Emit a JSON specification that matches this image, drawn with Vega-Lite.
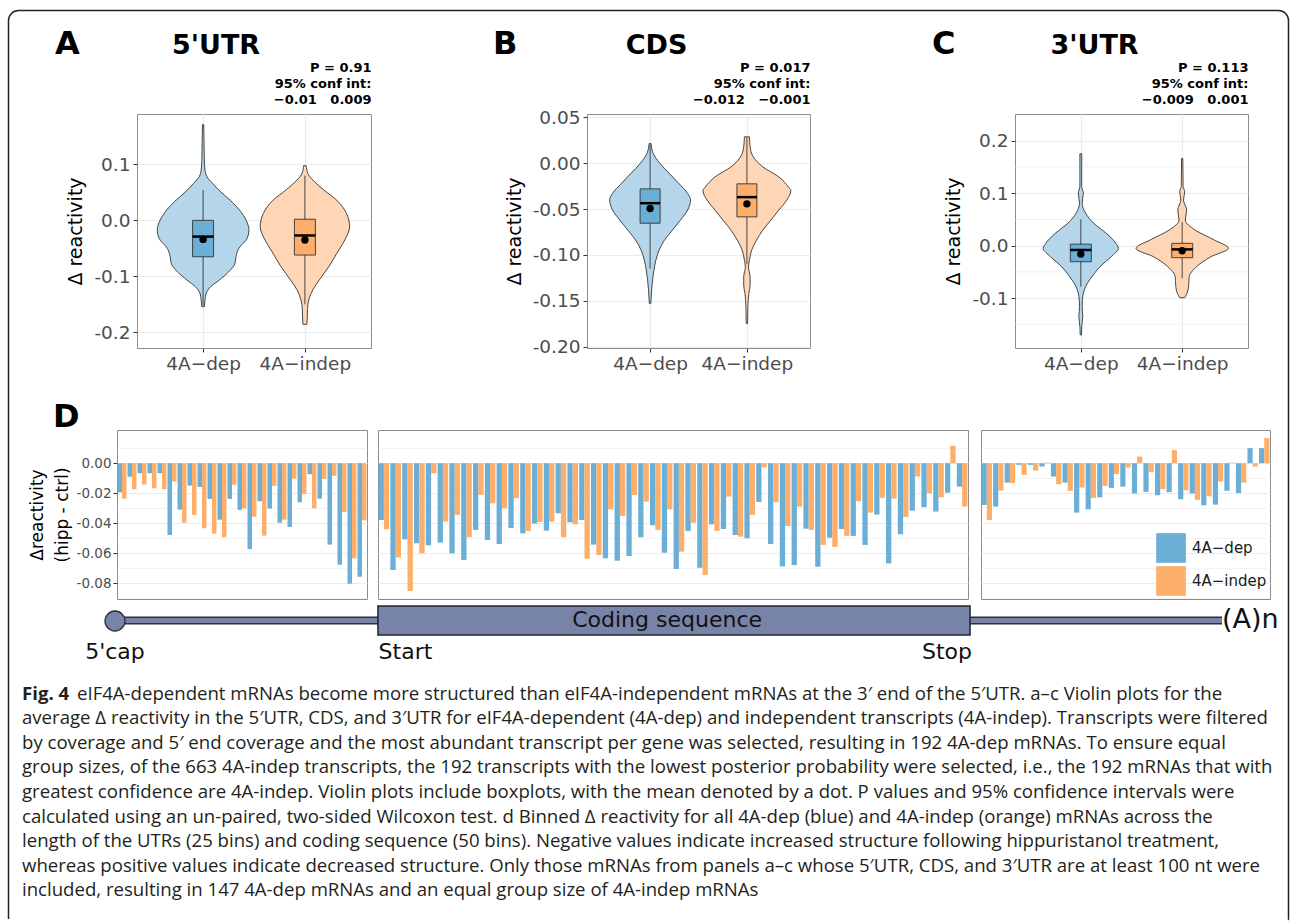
{
"$schema": "https://vega.github.io/schema/vega-lite/v6.json",
"background": "white",
"padding": {"left": 7, "top": 9, "right": 0, "bottom": 0},
"spacing": 0,
"bounds": "flush",
"resolve": {"scale": {"x": "independent", "y": "independent", "color": "independent", "fill": "independent", "xOffset": "independent"}},
"config": {
  "font": "DejaVu Sans",
  "view": {"stroke": null},
  "axis": {"labelFont": "DejaVu Sans", "titleFont": "DejaVu Sans", "labelColor": "#4d4d4d", "titleColor": "#000000", "titleFontWeight": "normal", "tickColor": "#333333", "domain": false, "gridColor": "#ebebeb", "labelOverlap": false},
  "title": {"font": "DejaVu Sans", "fontWeight": "bold", "color": "#000000"},
  "legend": {"labelFont": "DejaVu Sans"}
},
"datasets": {
  "vA": [
    {"g":"4A−dep","v":0.171,"w":0.006},{"g":"4A−dep","v":0.143,"w":0.009},{"g":"4A−dep","v":0.108,"w":0.012},{"g":"4A−dep","v":0.09,"w":0.019},{"g":"4A−dep","v":0.078,"w":0.038},{"g":"4A−dep","v":0.066,"w":0.094},{"g":"4A−dep","v":0.051,"w":0.172},{"g":"4A−dep","v":0.036,"w":0.266},{"g":"4A−dep","v":0.018,"w":0.36},{"g":"4A−dep","v":0.0,"w":0.423},{"g":"4A−dep","v":-0.017,"w":0.45},{"g":"4A−dep","v":-0.032,"w":0.433},{"g":"4A−dep","v":-0.05,"w":0.351},{"g":"4A−dep","v":-0.065,"w":0.323},{"g":"4A−dep","v":-0.077,"w":0.313},{"g":"4A−dep","v":-0.092,"w":0.251},{"g":"4A−dep","v":-0.107,"w":0.157},{"g":"4A−dep","v":-0.118,"w":0.078},{"g":"4A−dep","v":-0.13,"w":0.031},{"g":"4A−dep","v":-0.142,"w":0.019},{"g":"4A−dep","v":-0.154,"w":0.013},
    {"g":"4A−indep","v":0.0976,"w":0.013},{"g":"4A−indep","v":0.084,"w":0.028},{"g":"4A−indep","v":0.072,"w":0.078},{"g":"4A−indep","v":0.054,"w":0.188},{"g":"4A−indep","v":0.036,"w":0.313},{"g":"4A−indep","v":0.0125,"w":0.408},{"g":"4A−indep","v":-0.0113,"w":0.439},{"g":"4A−indep","v":-0.035,"w":0.392},{"g":"4A−indep","v":-0.0589,"w":0.313},{"g":"4A−indep","v":-0.0827,"w":0.235},{"g":"4A−indep","v":-0.1065,"w":0.141},{"g":"4A−indep","v":-0.124,"w":0.078},{"g":"4A−indep","v":-0.142,"w":0.038},{"g":"4A−indep","v":-0.1595,"w":0.025},{"g":"4A−indep","v":-0.178,"w":0.022},{"g":"4A−indep","v":-0.1857,"w":0.019}
  ],
  "vB": [
    {"g":"4A−dep","v":0.0214,"w":0.01},{"g":"4A−dep","v":0.0105,"w":0.033},{"g":"4A−dep","v":0.0,"w":0.099},{"g":"4A−dep","v":-0.011,"w":0.197},{"g":"4A−dep","v":-0.022,"w":0.296},{"g":"4A−dep","v":-0.033,"w":0.388},{"g":"4A−dep","v":-0.04,"w":0.418},{"g":"4A−dep","v":-0.051,"w":0.388},{"g":"4A−dep","v":-0.062,"w":0.313},{"g":"4A−dep","v":-0.073,"w":0.23},{"g":"4A−dep","v":-0.084,"w":0.148},{"g":"4A−dep","v":-0.095,"w":0.092},{"g":"4A−dep","v":-0.106,"w":0.059},{"g":"4A−dep","v":-0.117,"w":0.039},{"g":"4A−dep","v":-0.127,"w":0.026},{"g":"4A−dep","v":-0.138,"w":0.016},{"g":"4A−dep","v":-0.149,"w":0.01},{"g":"4A−dep","v":-0.153,"w":0.007},
    {"g":"4A−indep","v":0.0287,"w":0.026},{"g":"4A−indep","v":0.0178,"w":0.033},{"g":"4A−indep","v":0.0069,"w":0.066},{"g":"4A−indep","v":-0.004,"w":0.164},{"g":"4A−indep","v":-0.0149,"w":0.329},{"g":"4A−indep","v":-0.0258,"w":0.428},{"g":"4A−indep","v":-0.03,"w":0.454},{"g":"4A−indep","v":-0.0403,"w":0.411},{"g":"4A−indep","v":-0.0512,"w":0.329},{"g":"4A−indep","v":-0.0621,"w":0.247},{"g":"4A−indep","v":-0.073,"w":0.164},{"g":"4A−indep","v":-0.0839,"w":0.099},{"g":"4A−indep","v":-0.0948,"w":0.049},{"g":"4A−indep","v":-0.1057,"w":0.026},{"g":"4A−indep","v":-0.113,"w":0.016},{"g":"4A−indep","v":-0.1238,"w":0.033},{"g":"4A−indep","v":-0.133,"w":0.033},{"g":"4A−indep","v":-0.142,"w":0.02},{"g":"4A−indep","v":-0.1565,"w":0.01},{"g":"4A−indep","v":-0.1747,"w":0.007}
  ],
  "vC": [
    {"g":"4A−dep","v":0.175,"w":0.009},{"g":"4A−dep","v":0.151,"w":0.009},{"g":"4A−dep","v":0.113,"w":0.009},{"g":"4A−dep","v":0.1,"w":0.025},{"g":"4A−dep","v":0.081,"w":0.013},{"g":"4A−dep","v":0.062,"w":0.047},{"g":"4A−dep","v":0.043,"w":0.126},{"g":"4A−dep","v":0.0235,"w":0.252},{"g":"4A−dep","v":0.0045,"w":0.346},{"g":"4A−dep","v":-0.005,"w":0.371},{"g":"4A−dep","v":-0.021,"w":0.299},{"g":"4A−dep","v":-0.04,"w":0.189},{"g":"4A−dep","v":-0.059,"w":0.11},{"g":"4A−dep","v":-0.078,"w":0.047},{"g":"4A−dep","v":-0.097,"w":0.019},{"g":"4A−dep","v":-0.116,"w":0.013},{"g":"4A−dep","v":-0.135,"w":0.019},{"g":"4A−dep","v":-0.154,"w":0.009},{"g":"4A−dep","v":-0.17,"w":0.006},
    {"g":"4A−indep","v":0.166,"w":0.006},{"g":"4A−indep","v":0.113,"w":0.009},{"g":"4A−indep","v":0.103,"w":0.025},{"g":"4A−indep","v":0.087,"w":0.013},{"g":"4A−indep","v":0.068,"w":0.044},{"g":"4A−indep","v":0.049,"w":0.031},{"g":"4A−indep","v":0.03,"w":0.126},{"g":"4A−indep","v":0.011,"w":0.315},{"g":"4A−indep","v":-0.005,"w":0.456},{"g":"4A−indep","v":-0.021,"w":0.283},{"g":"4A−indep","v":-0.04,"w":0.142},{"g":"4A−indep","v":-0.059,"w":0.069},{"g":"4A−indep","v":-0.078,"w":0.063},{"g":"4A−indep","v":-0.091,"w":0.047},{"g":"4A−indep","v":-0.099,"w":0.025}
  ],
  "gridC": [{"gv": -0.15}, {"gv": -0.05}, {"gv": 0.05}, {"gv": 0.15}],
  "bA": [{"g":"4A−dep","q1":-0.065,"med":-0.029,"q3":0.0,"wlo":-0.152,"whi":0.054,"mean":-0.034},{"g":"4A−indep","q1":-0.062,"med":-0.027,"q3":0.002,"wlo":-0.15,"whi":0.08,"mean":-0.035}],
  "bB": [{"g":"4A−dep","q1":-0.0654,"med":-0.0436,"q3":-0.028,"wlo":-0.115,"whi":0.0205,"mean":-0.0494},{"g":"4A−indep","q1":-0.0585,"med":-0.037,"q3":-0.0225,"wlo":-0.11,"whi":0.028,"mean":-0.0443}],
  "bC": [{"g":"4A−dep","q1":-0.0305,"med":-0.008,"q3":0.003,"wlo":-0.078,"whi":0.05,"mean":-0.016},{"g":"4A−indep","q1":-0.0229,"med":-0.007,"q3":0.0045,"wlo":-0.062,"whi":0.045,"mean":-0.0095}],
  "d5": [
    {"b":1,"g":"4A−dep","v":-0.0193},{"b":1,"g":"4A−indep","v":-0.0236},{"b":2,"g":"4A−dep","v":-0.009},{"b":2,"g":"4A−indep","v":-0.0173},{"b":3,"g":"4A−dep","v":-0.0067},{"b":3,"g":"4A−indep","v":-0.0142},{"b":4,"g":"4A−dep","v":-0.0067},{"b":4,"g":"4A−indep","v":-0.0167},{"b":5,"g":"4A−dep","v":-0.0067},{"b":5,"g":"4A−indep","v":-0.0173},
    {"b":6,"g":"4A−dep","v":-0.0478},{"b":6,"g":"4A−indep","v":-0.0122},{"b":7,"g":"4A−dep","v":-0.0309},{"b":7,"g":"4A−indep","v":-0.0396},{"b":8,"g":"4A−dep","v":-0.0149},{"b":8,"g":"4A−indep","v":-0.0344},{"b":9,"g":"4A−dep","v":-0.0158},{"b":9,"g":"4A−indep","v":-0.0433},{"b":10,"g":"4A−dep","v":-0.0238},{"b":10,"g":"4A−indep","v":-0.0469},
    {"b":11,"g":"4A−dep","v":-0.0376},{"b":11,"g":"4A−indep","v":-0.0493},{"b":12,"g":"4A−dep","v":-0.0238},{"b":12,"g":"4A−indep","v":-0.0144},{"b":13,"g":"4A−dep","v":-0.0311},{"b":13,"g":"4A−indep","v":-0.03},{"b":14,"g":"4A−dep","v":-0.0571},{"b":14,"g":"4A−indep","v":-0.0356},{"b":15,"g":"4A−dep","v":-0.0253},{"b":15,"g":"4A−indep","v":-0.0482},
    {"b":16,"g":"4A−dep","v":-0.0302},{"b":16,"g":"4A−indep","v":-0.0151},{"b":17,"g":"4A−dep","v":-0.0396},{"b":17,"g":"4A−indep","v":-0.0376},{"b":18,"g":"4A−dep","v":-0.0424},{"b":18,"g":"4A−indep","v":-0.0102},{"b":19,"g":"4A−dep","v":-0.026},{"b":19,"g":"4A−indep","v":-0.0204},{"b":20,"g":"4A−dep","v":-0.0073},{"b":20,"g":"4A−indep","v":-0.03},
    {"b":21,"g":"4A−dep","v":-0.0236},{"b":21,"g":"4A−indep","v":-0.0104},{"b":22,"g":"4A−dep","v":-0.0542},{"b":22,"g":"4A−indep","v":-0.0084},{"b":23,"g":"4A−dep","v":-0.0676},{"b":23,"g":"4A−indep","v":-0.0324},{"b":24,"g":"4A−dep","v":-0.0802},{"b":24,"g":"4A−indep","v":-0.0633},{"b":25,"g":"4A−dep","v":-0.0756},{"b":25,"g":"4A−indep","v":-0.038}
  ],
  "dc": [
    {"b":1,"g":"4A−dep","v":-0.0378},{"b":1,"g":"4A−indep","v":-0.044},{"b":2,"g":"4A−dep","v":-0.0711},{"b":2,"g":"4A−indep","v":-0.0627},{"b":3,"g":"4A−dep","v":-0.0507},{"b":3,"g":"4A−indep","v":-0.0851},{"b":4,"g":"4A−dep","v":-0.0533},{"b":4,"g":"4A−indep","v":-0.06},{"b":5,"g":"4A−dep","v":-0.0547},{"b":5,"g":"4A−indep","v":-0.0067},
    {"b":6,"g":"4A−dep","v":-0.0529},{"b":6,"g":"4A−indep","v":-0.0389},{"b":7,"g":"4A−dep","v":-0.06},{"b":7,"g":"4A−indep","v":-0.0344},{"b":8,"g":"4A−dep","v":-0.0644},{"b":8,"g":"4A−indep","v":-0.0493},{"b":9,"g":"4A−dep","v":-0.0444},{"b":9,"g":"4A−indep","v":-0.0211},{"b":10,"g":"4A−dep","v":-0.0511},{"b":10,"g":"4A−indep","v":-0.0267},
    {"b":11,"g":"4A−dep","v":-0.0538},{"b":11,"g":"4A−indep","v":-0.03},{"b":12,"g":"4A−dep","v":-0.0431},{"b":12,"g":"4A−indep","v":-0.0233},{"b":13,"g":"4A−dep","v":-0.0467},{"b":13,"g":"4A−indep","v":-0.0451},{"b":14,"g":"4A−dep","v":-0.0402},{"b":14,"g":"4A−indep","v":-0.0391},{"b":15,"g":"4A−dep","v":-0.0449},{"b":15,"g":"4A−indep","v":-0.0389},
    {"b":16,"g":"4A−dep","v":-0.0333},{"b":16,"g":"4A−indep","v":-0.0493},{"b":17,"g":"4A−dep","v":-0.0393},{"b":17,"g":"4A−indep","v":-0.0407},{"b":18,"g":"4A−dep","v":-0.0378},{"b":18,"g":"4A−indep","v":-0.0636},{"b":19,"g":"4A−dep","v":-0.0542},{"b":19,"g":"4A−indep","v":-0.0611},{"b":20,"g":"4A−dep","v":-0.0633},{"b":20,"g":"4A−indep","v":-0.0307},
    {"b":21,"g":"4A−dep","v":-0.0649},{"b":21,"g":"4A−indep","v":-0.0351},{"b":22,"g":"4A−dep","v":-0.0618},{"b":22,"g":"4A−indep","v":-0.0211},{"b":23,"g":"4A−dep","v":-0.0493},{"b":23,"g":"4A−indep","v":-0.0256},{"b":24,"g":"4A−dep","v":-0.0413},{"b":24,"g":"4A−indep","v":-0.0444},{"b":25,"g":"4A−dep","v":-0.0596},{"b":25,"g":"4A−indep","v":-0.0307},
    {"b":26,"g":"4A−dep","v":-0.0704},{"b":26,"g":"4A−indep","v":-0.0589},{"b":27,"g":"4A−dep","v":-0.0451},{"b":27,"g":"4A−indep","v":-0.0396},{"b":28,"g":"4A−dep","v":-0.0696},{"b":28,"g":"4A−indep","v":-0.0744},{"b":29,"g":"4A−dep","v":-0.0407},{"b":29,"g":"4A−indep","v":-0.0451},{"b":30,"g":"4A−dep","v":-0.0438},{"b":30,"g":"4A−indep","v":-0.0222},
    {"b":31,"g":"4A−dep","v":-0.0478},{"b":31,"g":"4A−indep","v":-0.0489},{"b":32,"g":"4A−dep","v":-0.05},{"b":32,"g":"4A−indep","v":-0.0344},{"b":33,"g":"4A−dep","v":-0.0258},{"b":33,"g":"4A−indep","v":-0.0027},{"b":34,"g":"4A−dep","v":-0.0538},{"b":34,"g":"4A−indep","v":-0.026},{"b":35,"g":"4A−dep","v":-0.0687},{"b":35,"g":"4A−indep","v":-0.0418},
    {"b":36,"g":"4A−dep","v":-0.0678},{"b":36,"g":"4A−indep","v":-0.0289},{"b":37,"g":"4A−dep","v":-0.0436},{"b":37,"g":"4A−indep","v":-0.0444},{"b":38,"g":"4A−dep","v":-0.0689},{"b":38,"g":"4A−indep","v":-0.0544},{"b":39,"g":"4A−dep","v":-0.0496},{"b":39,"g":"4A−indep","v":-0.0558},{"b":40,"g":"4A−dep","v":-0.0438},{"b":40,"g":"4A−indep","v":-0.0484},
    {"b":41,"g":"4A−dep","v":-0.0484},{"b":41,"g":"4A−indep","v":-0.0253},{"b":42,"g":"4A−dep","v":-0.0544},{"b":42,"g":"4A−indep","v":-0.0329},{"b":43,"g":"4A−dep","v":-0.0342},{"b":43,"g":"4A−indep","v":-0.0231},{"b":44,"g":"4A−dep","v":-0.0667},{"b":44,"g":"4A−indep","v":-0.0236},{"b":45,"g":"4A−dep","v":-0.0473},{"b":45,"g":"4A−indep","v":-0.0358},
    {"b":46,"g":"4A−dep","v":-0.0316},{"b":46,"g":"4A−indep","v":-0.0089},{"b":47,"g":"4A−dep","v":-0.0293},{"b":47,"g":"4A−indep","v":-0.02},{"b":48,"g":"4A−dep","v":-0.0322},{"b":48,"g":"4A−indep","v":-0.0227},{"b":49,"g":"4A−dep","v":-0.0196},{"b":49,"g":"4A−indep","v":0.0116},{"b":50,"g":"4A−dep","v":-0.0156},{"b":50,"g":"4A−indep","v":-0.0289}
  ],
  "d3": [
    {"b":1,"g":"4A−dep","v":-0.0278},{"b":1,"g":"4A−indep","v":-0.0378},{"b":2,"g":"4A−dep","v":-0.0289},{"b":2,"g":"4A−indep","v":-0.0182},{"b":3,"g":"4A−dep","v":-0.0129},{"b":3,"g":"4A−indep","v":-0.0133},{"b":4,"g":"4A−dep","v":-0.0011},{"b":4,"g":"4A−indep","v":-0.0078},{"b":5,"g":"4A−dep","v":-0.0011},{"b":5,"g":"4A−indep","v":-0.0049},
    {"b":6,"g":"4A−dep","v":-0.0022},{"b":6,"g":"4A−indep","v":0.0004},{"b":7,"g":"4A−dep","v":-0.0089},{"b":7,"g":"4A−indep","v":-0.014},{"b":8,"g":"4A−dep","v":-0.0129},{"b":8,"g":"4A−indep","v":-0.0184},{"b":9,"g":"4A−dep","v":-0.0329},{"b":9,"g":"4A−indep","v":-0.0162},{"b":10,"g":"4A−dep","v":-0.0307},{"b":10,"g":"4A−indep","v":-0.0231},
    {"b":11,"g":"4A−dep","v":-0.0227},{"b":11,"g":"4A−indep","v":-0.0151},{"b":12,"g":"4A−dep","v":-0.0164},{"b":12,"g":"4A−indep","v":-0.0073},{"b":13,"g":"4A−dep","v":-0.0156},{"b":13,"g":"4A−indep","v":-0.0029},{"b":14,"g":"4A−dep","v":-0.0202},{"b":14,"g":"4A−indep","v":0.0044},{"b":15,"g":"4A−dep","v":-0.0191},{"b":15,"g":"4A−indep","v":-0.006},
    {"b":16,"g":"4A−dep","v":-0.0213},{"b":16,"g":"4A−indep","v":-0.0173},{"b":17,"g":"4A−dep","v":-0.0193},{"b":17,"g":"4A−indep","v":0.0087},{"b":18,"g":"4A−dep","v":-0.024},{"b":18,"g":"4A−indep","v":-0.018},{"b":19,"g":"4A−dep","v":-0.0202},{"b":19,"g":"4A−indep","v":-0.0244},{"b":20,"g":"4A−dep","v":-0.028},{"b":20,"g":"4A−indep","v":-0.022},
    {"b":21,"g":"4A−dep","v":-0.0276},{"b":21,"g":"4A−indep","v":-0.0122},{"b":22,"g":"4A−dep","v":-0.0184},{"b":22,"g":"4A−indep","v":0.0004},{"b":23,"g":"4A−dep","v":-0.0198},{"b":23,"g":"4A−indep","v":-0.0129},{"b":24,"g":"4A−dep","v":0.01},{"b":24,"g":"4A−indep","v":-0.0022},{"b":25,"g":"4A−dep","v":0.01},{"b":25,"g":"4A−indep","v":0.0167}
  ],
  "gene": [
    {"part":"5′UTR","start":7.38,"end":28.25},
    {"part":"CDS","start":28.25,"end":75.24},
    {"part":"3′UTR","start":75.24,"end":95.24}
  ],
  "genelab": [
    {"kind":"cap","label":"5'cap","pos":7.38},
    {"kind":"start","label":"Start","pos":28.3},
    {"kind":"stop","label":"Stop","pos":75.4},
    {"kind":"cds","label":"Coding sequence","pos":51.2},
    {"kind":"polyA","label":"(A)n","pos":95.24}
  ],
  "cap": [
    {"line":1,"part":"b","text":"Fig. 4"},
    {"line":1,"part":"r","text":"eIF4A-dependent mRNAs become more structured than eIF4A-independent mRNAs at the 3′ end of the 5′UTR. a–c Violin plots for the"},
    {"line":2,"part":"p","text":"average Δ reactivity in the 5′UTR, CDS, and 3′UTR for eIF4A-dependent (4A-dep) and independent transcripts (4A-indep). Transcripts were filtered"},
    {"line":3,"part":"p","text":"by coverage and 5′ end coverage and the most abundant transcript per gene was selected, resulting in 192 4A-dep mRNAs. To ensure equal"},
    {"line":4,"part":"p","text":"group sizes, of the 663 4A-indep transcripts, the 192 transcripts with the lowest posterior probability were selected, i.e., the 192 mRNAs that with"},
    {"line":5,"part":"p","text":"greatest confidence are 4A-indep. Violin plots include boxplots, with the mean denoted by a dot. P values and 95% confidence intervals were"},
    {"line":6,"part":"p","text":"calculated using an un-paired, two-sided Wilcoxon test. d Binned Δ reactivity for all 4A-dep (blue) and 4A-indep (orange) mRNAs across the"},
    {"line":7,"part":"p","text":"length of the UTRs (25 bins) and coding sequence (50 bins). Negative values indicate increased structure following hippuristanol treatment,"},
    {"line":8,"part":"p","text":"whereas positive values indicate decreased structure. Only those mRNAs from panels a–c whose 5′UTR, CDS, and 3′UTR are at least 100 nt were"},
    {"line":9,"part":"p","text":"included, resulting in 147 4A-dep mRNAs and an equal group size of 4A-indep mRNAs"}
  ]
},
"vconcat": [
  {"hconcat": [
    {"width": 1283, "height": 911, "data": {"values": [{}]},
     "mark": {"type": "rect", "filled": false, "stroke": "#222222", "strokeWidth": 1.5, "cornerRadiusTopLeft": 10, "cornerRadiusTopRight": 10, "strokeDash": [2174.7, 1280.4, 914.7, 60]},
     "encoding": {"x": {"datum": 0.00117, "type": "quantitative", "scale": {"domain": [0, 1], "nice": false, "zero": false}, "axis": null}, "x2": {"datum": 0.99883},
                  "y": {"datum": 0.99835, "type": "quantitative", "scale": {"domain": [0, 1], "nice": false, "zero": false}, "axis": null}, "y2": {"datum": 0.00055}}}
   ], "spacing": 0, "bounds": "flush"},
  {"width": 1, "height": 105, "data": {"values": [{}]}, "mark": {"type": "point", "opacity": 0, "size": 0}},
  {
   "hconcat": [
    {"width": 130, "height": 1, "data": {"values": [{}]}, "mark": {"type": "point", "opacity": 0, "size": 0},
     "title": {"text": "A", "fontSize": 32, "anchor": "start", "dx": 48, "offset": 28, "baseline": "alphabetic", "frame": "group"}},
    {
     "width": 234, "height": 234,
     "view": {"stroke": "#8c8c8c", "strokeWidth": 1},
     "title": {"text": "5'UTR", "fontSize": 27, "anchor": "middle", "dx": -38, "offset": -20, "baseline": "alphabetic", "frame": "group"},
     "resolve": {"axis": {"x": "independent"}},
     "layer": [
      {"data": {"name": "vA"},
       "transform": [{"calculate": "datum.g === '4A−dep' ? 1 : 2", "as": "c"}, {"calculate": "datum.c - datum.w", "as": "lo"}, {"calculate": "datum.c + datum.w", "as": "hi"}],
       "mark": {"type": "area", "orient": "horizontal", "interpolate": "monotone", "stroke": "#333333", "strokeWidth": 0.9, "opacity": 1},
       "encoding": {
         "y": {"field": "v", "type": "quantitative", "title": "Δ reactivity", "scale": {"domain": [-0.228, 0.19], "nice": false, "zero": false},
               "axis": {"values": [-0.2,-0.15,-0.1,-0.05,0,0.05,0.1,0.15], "labelExpr": "abs(datum.value*10 - round(datum.value*10)) > 0.01 ? '' : replace(format(datum.value, '.1f'), '−', '-')", "titleFontSize": 19, "titlePadding": 8, "labelFontSize": 18.5, "labelPadding": 3, "tickSize": 4, "tickOpacity": {"condition": {"test": "abs(datum.value*10 - round(datum.value*10)) > 0.01", "value": 0}, "value": 1}, "grid": true, "gridWidth": {"condition": {"test": "abs(datum.value*10 - round(datum.value*10)) > 0.01", "value": 0.6}, "value": 1.2}}},
         "x": {"field": "lo", "type": "quantitative", "scale": {"domain": [0.4, 2.6], "nice": false, "zero": false},
               "axis": {"orient": "bottom", "values": [1, 2], "labelExpr": "datum.value === 1 ? '4A−dep' : '4A−indep'", "title": null, "grid": true, "gridWidth": 1.2, "tickSize": 4, "labelFontSize": 18.5, "labelPadding": 2}},
         "x2": {"field": "hi"},
         "fill": {"field": "g", "type": "nominal", "scale": {"domain": ["4A−dep", "4A−indep"], "range": ["#b5d6ea", "#fed6b5"]}, "legend": null}
       }},
      {"data": {"name": "bA"}, "transform": [{"calculate": "datum.g === '4A−dep' ? 1 : 2", "as": "c"}],
       "mark": {"type": "rule", "color": "#333333", "strokeWidth": 0.9},
       "encoding": {"x": {"field": "c", "type": "quantitative", "axis": null}, "y": {"field": "wlo", "type": "quantitative", "title": "Δ reactivity"}, "y2": {"field": "whi"}}},
      {"data": {"name": "bA"}, "transform": [{"calculate": "datum.g === '4A−dep' ? 1 : 2", "as": "c"}],
       "mark": {"type": "bar", "width": 21, "stroke": "#333333", "strokeWidth": 0.9, "opacity": 1},
       "encoding": {"x": {"field": "c", "type": "quantitative", "axis": null}, "y": {"field": "q1", "type": "quantitative", "title": "Δ reactivity"}, "y2": {"field": "q3"},
                    "color": {"field": "g", "type": "nominal", "scale": {"domain": ["4A−dep", "4A−indep"], "range": ["#6baed6", "#fdae6b"]}, "legend": null}}},
      {"data": {"name": "bA"}, "transform": [{"calculate": "datum.g === '4A−dep' ? 1 : 2", "as": "c"}],
       "mark": {"type": "tick", "orient": "horizontal", "size": 21, "thickness": 2.5, "color": "#000000", "opacity": 1},
       "encoding": {"x": {"field": "c", "type": "quantitative", "axis": null}, "y": {"field": "med", "type": "quantitative", "title": "Δ reactivity"}}},
      {"data": {"name": "bA"}, "transform": [{"calculate": "datum.g === '4A−dep' ? 1 : 2", "as": "c"}],
       "mark": {"type": "point", "filled": true, "size": 55, "color": "#000000", "opacity": 1},
       "encoding": {"x": {"field": "c", "type": "quantitative",
                          "axis": {"orient": "top", "title": ["P = 0.91", "95% conf int:", "−0.01\u00a0\u00a0\u00a00.009"], "titleAnchor": "end", "titleFontSize": 13, "titleFontWeight": "bold", "titleLineHeight": 16.3, "titlePadding": 7, "labels": false, "ticks": false, "domain": false, "grid": false}},
                    "y": {"field": "mean", "type": "quantitative", "title": "Δ reactivity"}}}
     ]
    },
    {"width": 216, "height": 1, "data": {"values": [{}]}, "mark": {"type": "point", "opacity": 0, "size": 0},
     "title": {"text": "B", "fontSize": 32, "anchor": "start", "dx": 122, "offset": 28, "baseline": "alphabetic", "frame": "group"}},
    {
     "width": 223, "height": 234,
     "view": {"stroke": "#8c8c8c", "strokeWidth": 1},
     "title": {"text": "CDS", "fontSize": 27, "anchor": "middle", "dx": -42, "offset": -20, "baseline": "alphabetic", "frame": "group"},
     "resolve": {"axis": {"x": "independent"}},
     "layer": [
      {"data": {"name": "vB"},
       "transform": [{"calculate": "datum.g === '4A−dep' ? 1 : 2", "as": "c"}, {"calculate": "datum.c - datum.w", "as": "lo"}, {"calculate": "datum.c + datum.w", "as": "hi"}],
       "mark": {"type": "area", "orient": "horizontal", "interpolate": "monotone", "stroke": "#333333", "strokeWidth": 0.9, "opacity": 1},
       "encoding": {
         "y": {"field": "v", "type": "quantitative", "title": "Δ reactivity", "scale": {"domain": [-0.2014, 0.0536], "nice": false, "zero": false},
               "axis": {"values": [-0.2,-0.175,-0.15,-0.125,-0.1,-0.075,-0.05,-0.025,0,0.025,0.05], "labelExpr": "abs(datum.value*20 - round(datum.value*20)) > 0.01 ? '' : replace(format(datum.value, '.2f'), '−', '-')", "titleFontSize": 19, "titlePadding": 8, "labelFontSize": 18.5, "labelPadding": 3, "tickSize": 4, "tickOpacity": {"condition": {"test": "abs(datum.value*20 - round(datum.value*20)) > 0.01", "value": 0}, "value": 1}, "grid": true, "gridWidth": {"condition": {"test": "abs(datum.value*20 - round(datum.value*20)) > 0.01", "value": 0.6}, "value": 1.2}}},
         "x": {"field": "lo", "type": "quantitative", "scale": {"domain": [0.4, 2.6], "nice": false, "zero": false},
               "axis": {"orient": "bottom", "values": [1, 2], "labelExpr": "datum.value === 1 ? '4A−dep' : '4A−indep'", "title": null, "grid": true, "gridWidth": 1.2, "tickSize": 4, "labelFontSize": 18.5, "labelPadding": 2}},
         "x2": {"field": "hi"},
         "fill": {"field": "g", "type": "nominal", "scale": {"domain": ["4A−dep", "4A−indep"], "range": ["#b5d6ea", "#fed6b5"]}, "legend": null}
       }},
      {"data": {"name": "bB"}, "transform": [{"calculate": "datum.g === '4A−dep' ? 1 : 2", "as": "c"}],
       "mark": {"type": "rule", "color": "#333333", "strokeWidth": 0.9},
       "encoding": {"x": {"field": "c", "type": "quantitative", "axis": null}, "y": {"field": "wlo", "type": "quantitative", "title": "Δ reactivity"}, "y2": {"field": "whi"}}},
      {"data": {"name": "bB"}, "transform": [{"calculate": "datum.g === '4A−dep' ? 1 : 2", "as": "c"}],
       "mark": {"type": "bar", "width": 20, "stroke": "#333333", "strokeWidth": 0.9, "opacity": 1},
       "encoding": {"x": {"field": "c", "type": "quantitative", "axis": null}, "y": {"field": "q1", "type": "quantitative", "title": "Δ reactivity"}, "y2": {"field": "q3"},
                    "color": {"field": "g", "type": "nominal", "scale": {"domain": ["4A−dep", "4A−indep"], "range": ["#6baed6", "#fdae6b"]}, "legend": null}}},
      {"data": {"name": "bB"}, "transform": [{"calculate": "datum.g === '4A−dep' ? 1 : 2", "as": "c"}],
       "mark": {"type": "tick", "orient": "horizontal", "size": 20, "thickness": 2.5, "color": "#000000", "opacity": 1},
       "encoding": {"x": {"field": "c", "type": "quantitative", "axis": null}, "y": {"field": "med", "type": "quantitative", "title": "Δ reactivity"}}},
      {"data": {"name": "bB"}, "transform": [{"calculate": "datum.g === '4A−dep' ? 1 : 2", "as": "c"}],
       "mark": {"type": "point", "filled": true, "size": 55, "color": "#000000", "opacity": 1},
       "encoding": {"x": {"field": "c", "type": "quantitative",
                          "axis": {"orient": "top", "title": ["P = 0.017", "95% conf int:", "−0.012\u00a0\u00a0\u00a0−0.001"], "titleAnchor": "end", "titleFontSize": 13, "titleFontWeight": "bold", "titleLineHeight": 16.3, "titlePadding": 7, "labels": false, "ticks": false, "domain": false, "grid": false}},
                    "y": {"field": "mean", "type": "quantitative", "title": "Δ reactivity"}}}
     ]
    },
    {"width": 205, "height": 1, "data": {"values": [{}]}, "mark": {"type": "point", "opacity": 0, "size": 0},
     "title": {"text": "C", "fontSize": 32, "anchor": "start", "dx": 122, "offset": 28, "baseline": "alphabetic", "frame": "group"}},
    {
     "width": 233, "height": 234,
     "view": {"stroke": "#8c8c8c", "strokeWidth": 1},
     "title": {"text": "3'UTR", "fontSize": 27, "anchor": "middle", "dx": -37, "offset": -20, "baseline": "alphabetic", "frame": "group"},
     "resolve": {"axis": {"x": "independent"}},
     "layer": [
      {"data": {"name": "gridC"},
       "mark": {"type": "rule", "color": "#ebebeb", "strokeWidth": 0.6},
       "encoding": {"y": {"field": "gv", "type": "quantitative", "title": "Δ reactivity", "scale": {"domain": [-0.1948, 0.2508], "nice": false, "zero": false},
                          "axis": {"values": [-0.1, 0, 0.1, 0.2], "labelExpr": "replace(format(datum.value, '.1f'), '−', '-')", "titleFontSize": 19, "titlePadding": 8, "labelFontSize": 18.5, "labelPadding": 3, "tickSize": 4, "grid": true, "gridWidth": 1.2}}}},
      {"data": {"name": "vC"},
       "transform": [{"calculate": "datum.g === '4A−dep' ? 1 : 2", "as": "c"}, {"calculate": "datum.c - datum.w", "as": "lo"}, {"calculate": "datum.c + datum.w", "as": "hi"}],
       "mark": {"type": "area", "orient": "horizontal", "interpolate": "monotone", "stroke": "#333333", "strokeWidth": 0.9, "opacity": 1},
       "encoding": {
         "y": {"field": "v", "type": "quantitative", "title": "Δ reactivity"},
         "x": {"field": "lo", "type": "quantitative", "scale": {"domain": [0.4, 2.6], "nice": false, "zero": false},
               "axis": {"orient": "bottom", "values": [1, 2], "labelExpr": "datum.value === 1 ? '4A−dep' : '4A−indep'", "title": null, "grid": true, "gridWidth": 1.2, "tickSize": 4, "labelFontSize": 18.5, "labelPadding": 2}},
         "x2": {"field": "hi"},
         "fill": {"field": "g", "type": "nominal", "scale": {"domain": ["4A−dep", "4A−indep"], "range": ["#b5d6ea", "#fed6b5"]}, "legend": null}
       }},
      {"data": {"name": "bC"}, "transform": [{"calculate": "datum.g === '4A−dep' ? 1 : 2", "as": "c"}],
       "mark": {"type": "rule", "color": "#333333", "strokeWidth": 0.9},
       "encoding": {"x": {"field": "c", "type": "quantitative", "axis": null}, "y": {"field": "wlo", "type": "quantitative", "title": "Δ reactivity"}, "y2": {"field": "whi"}}},
      {"data": {"name": "bC"}, "transform": [{"calculate": "datum.g === '4A−dep' ? 1 : 2", "as": "c"}],
       "mark": {"type": "bar", "width": 21, "stroke": "#333333", "strokeWidth": 0.9, "opacity": 1},
       "encoding": {"x": {"field": "c", "type": "quantitative", "axis": null}, "y": {"field": "q1", "type": "quantitative", "title": "Δ reactivity"}, "y2": {"field": "q3"},
                    "color": {"field": "g", "type": "nominal", "scale": {"domain": ["4A−dep", "4A−indep"], "range": ["#6baed6", "#fdae6b"]}, "legend": null}}},
      {"data": {"name": "bC"}, "transform": [{"calculate": "datum.g === '4A−dep' ? 1 : 2", "as": "c"}],
       "mark": {"type": "tick", "orient": "horizontal", "size": 21, "thickness": 2.5, "color": "#000000", "opacity": 1},
       "encoding": {"x": {"field": "c", "type": "quantitative", "axis": null}, "y": {"field": "med", "type": "quantitative", "title": "Δ reactivity"}}},
      {"data": {"name": "bC"}, "transform": [{"calculate": "datum.g === '4A−dep' ? 1 : 2", "as": "c"}],
       "mark": {"type": "point", "filled": true, "size": 55, "color": "#000000", "opacity": 1},
       "encoding": {"x": {"field": "c", "type": "quantitative",
                          "axis": {"orient": "top", "title": ["P = 0.113", "95% conf int:", "−0.009\u00a0\u00a0\u00a00.001"], "titleAnchor": "end", "titleFontSize": 13, "titleFontWeight": "bold", "titleLineHeight": 16.3, "titlePadding": 7, "labels": false, "ticks": false, "domain": false, "grid": false}},
                    "y": {"field": "mean", "type": "quantitative", "title": "Δ reactivity"}}}
     ]
    }
   ],
   "spacing": 0,
   "bounds": "flush",
   "resolve": {"scale": {"x": "independent", "y": "independent", "color": "independent", "fill": "independent"}}
  },
  {"width": 1, "height": 316, "data": {"values": [{}]}, "mark": {"type": "point", "opacity": 0, "size": 0}},
  {
   "hconcat": [
    {"width": 110, "height": 1, "data": {"values": [{}]}, "mark": {"type": "point", "opacity": 0, "size": 0},
     "title": {"text": "D", "fontSize": 32, "anchor": "start", "dx": 46, "offset": -29, "baseline": "alphabetic", "frame": "group"}},
    {
     "width": 250, "height": 169,
     "view": {"stroke": "#8c8c8c", "strokeWidth": 1},
     "data": {"name": "d5"},
     "mark": {"type": "bar"},
     "encoding": {
       "x": {"field": "b", "type": "ordinal", "axis": null, "scale": {"paddingInner": 0.1, "paddingOuter": 0.05}},
       "xOffset": {"field": "g", "type": "nominal", "scale": {"domain": ["4A−dep", "4A−indep"]}},
       "y": {"field": "v", "type": "quantitative", "scale": {"domain": [-0.0904, 0.0221], "nice": false, "zero": false},
             "axis": {"values": [-0.09,-0.08,-0.07,-0.06,-0.05,-0.04,-0.03,-0.02,-0.01,0,0.01], "labelExpr": "abs(datum.value*50 - round(datum.value*50)) > 0.01 ? '' : replace(format(datum.value, '.2f'), '−', '-')", "title": ["Δreactivity", "(hipp - ctrl)"], "titleFontSize": 17, "titleLineHeight": 25, "titlePadding": 5, "labelFontSize": 13.5, "labelPadding": 2, "tickSize": 4, "tickOpacity": {"condition": {"test": "abs(datum.value*50 - round(datum.value*50)) > 0.01", "value": 0}, "value": 1}, "grid": true, "gridWidth": {"condition": {"test": "abs(datum.value*50 - round(datum.value*50)) > 0.01", "value": 0.6}, "value": 1.2}}},
       "y2": {"datum": 0},
       "color": {"field": "g", "type": "nominal", "scale": {"domain": ["4A−dep", "4A−indep"], "range": ["#6baed6", "#fdae6b"]}, "legend": null}
     }
    },
    {"width": 11, "height": 1, "data": {"values": [{}]}, "mark": {"type": "point", "opacity": 0, "size": 0}},
    {
     "width": 590, "height": 169,
     "view": {"stroke": "#8c8c8c", "strokeWidth": 1},
     "data": {"name": "dc"},
     "mark": {"type": "bar"},
     "encoding": {
       "x": {"field": "b", "type": "ordinal", "axis": null, "scale": {"paddingInner": 0.1, "paddingOuter": 0.05}},
       "xOffset": {"field": "g", "type": "nominal", "scale": {"domain": ["4A−dep", "4A−indep"]}},
       "y": {"field": "v", "type": "quantitative", "scale": {"domain": [-0.0904, 0.0221], "nice": false, "zero": false},
             "axis": {"values": [-0.09,-0.08,-0.07,-0.06,-0.05,-0.04,-0.03,-0.02,-0.01,0,0.01], "labels": false, "ticks": false, "title": null, "grid": true, "gridWidth": {"condition": {"test": "abs(datum.value*50 - round(datum.value*50)) > 0.01", "value": 0.6}, "value": 1.2}}},
       "y2": {"datum": 0},
       "color": {"field": "g", "type": "nominal", "scale": {"domain": ["4A−dep", "4A−indep"], "range": ["#6baed6", "#fdae6b"]}, "legend": null}
     }
    },
    {"width": 13, "height": 1, "data": {"values": [{}]}, "mark": {"type": "point", "opacity": 0, "size": 0}},
    {
     "width": 289, "height": 169,
     "view": {"stroke": "#8c8c8c", "strokeWidth": 1},
     "data": {"name": "d3"},
     "mark": {"type": "bar"},
     "encoding": {
       "x": {"field": "b", "type": "ordinal", "axis": null, "scale": {"paddingInner": 0.1, "paddingOuter": 0.05}},
       "xOffset": {"field": "g", "type": "nominal", "scale": {"domain": ["4A−dep", "4A−indep"]}},
       "y": {"field": "v", "type": "quantitative", "scale": {"domain": [-0.0904, 0.0221], "nice": false, "zero": false},
             "axis": {"values": [-0.09,-0.08,-0.07,-0.06,-0.05,-0.04,-0.03,-0.02,-0.01,0,0.01], "labels": false, "ticks": false, "title": null, "grid": true, "gridWidth": {"condition": {"test": "abs(datum.value*50 - round(datum.value*50)) > 0.01", "value": 0.6}, "value": 1.2}}},
       "y2": {"datum": 0},
       "color": {"field": "g", "type": "nominal", "scale": {"domain": ["4A−dep", "4A−indep"], "range": ["#6baed6", "#fdae6b"]},
                 "legend": {"orient": "bottom-right", "title": null, "symbolType": "square", "symbolSize": 880, "symbolStrokeWidth": 0, "symbolOpacity": 1, "labelFontSize": 15, "labelColor": "#1a1a1a", "rowPadding": 3, "offset": 3, "padding": 0, "labelOffset": 6}}
     }
    }
   ],
   "spacing": 0,
   "bounds": "flush",
   "resolve": {"scale": {"x": "independent", "y": "independent", "color": "independent", "xOffset": "independent"}}
  },
  {"width": 1, "height": 169, "data": {"values": [{}]}, "mark": {"type": "point", "opacity": 0, "size": 0}},
  {"hconcat": [
    {"width": 15, "height": 1, "data": {"values": [{}]}, "mark": {"type": "point", "opacity": 0, "size": 0}},
    {
     "width": 1260, "height": 70,
     "layer": [
      {"data": {"name": "gene"}, "transform": [{"filter": "datum.part !== 'CDS'"}],
       "mark": {"type": "rule", "strokeWidth": 8, "color": "#2b2f3c", "strokeCap": "butt"},
       "encoding": {"x": {"field": "start", "type": "quantitative", "scale": {"domain": [0, 100], "nice": false, "zero": false}, "axis": null}, "x2": {"field": "end"},
                    "y": {"datum": 4.85, "type": "quantitative", "scale": {"domain": [0, 7], "nice": false, "zero": false}, "axis": null}}},
      {"data": {"name": "gene"}, "transform": [{"filter": "datum.part !== 'CDS'"}],
       "mark": {"type": "rule", "strokeWidth": 5, "color": "#7884a7", "strokeCap": "butt"},
       "encoding": {"x": {"field": "start", "type": "quantitative"}, "x2": {"field": "end"}, "y": {"datum": 4.85, "type": "quantitative"}}},
      {"data": {"name": "gene"}, "transform": [{"filter": "datum.part === 'CDS'"}],
       "mark": {"type": "rect", "fill": "#7884a7", "stroke": "#1f2330", "strokeWidth": 1.5},
       "encoding": {"x": {"field": "start", "type": "quantitative"}, "x2": {"field": "end"}, "y": {"datum": 3.4, "type": "quantitative"}, "y2": {"datum": 6.3}}},
      {"data": {"name": "gene"}, "transform": [{"filter": "datum.part === '5′UTR'"}],
       "mark": {"type": "point", "shape": "circle", "filled": true, "size": 400, "fill": "#7884a7", "stroke": "#2b2f3c", "strokeWidth": 1.3, "opacity": 1},
       "encoding": {"x": {"field": "start", "type": "quantitative"}, "y": {"datum": 4.8, "type": "quantitative"}}},
      {"data": {"name": "genelab"}, "transform": [{"filter": "datum.kind === 'cap'"}],
       "mark": {"type": "text", "align": "center", "baseline": "middle", "fontSize": 22, "color": "#111111"},
       "encoding": {"x": {"field": "pos", "type": "quantitative"}, "y": {"datum": 1.7, "type": "quantitative"}, "text": {"field": "label"}}},
      {"data": {"name": "genelab"}, "transform": [{"filter": "datum.kind === 'start'"}],
       "mark": {"type": "text", "align": "left", "baseline": "middle", "fontSize": 22, "color": "#111111"},
       "encoding": {"x": {"field": "pos", "type": "quantitative"}, "y": {"datum": 1.7, "type": "quantitative"}, "text": {"field": "label"}}},
      {"data": {"name": "genelab"}, "transform": [{"filter": "datum.kind === 'stop'"}],
       "mark": {"type": "text", "align": "right", "baseline": "middle", "fontSize": 22, "color": "#111111"},
       "encoding": {"x": {"field": "pos", "type": "quantitative"}, "y": {"datum": 1.7, "type": "quantitative"}, "text": {"field": "label"}}},
      {"data": {"name": "genelab"}, "transform": [{"filter": "datum.kind === 'cds'"}],
       "mark": {"type": "text", "align": "center", "baseline": "middle", "fontSize": 22, "color": "#111111"},
       "encoding": {"x": {"field": "pos", "type": "quantitative"}, "y": {"datum": 4.9, "type": "quantitative"}, "text": {"field": "label"}}},
      {"data": {"name": "genelab"}, "transform": [{"filter": "datum.kind === 'polyA'"}],
       "mark": {"type": "text", "align": "left", "baseline": "middle", "fontSize": 27, "color": "#111111"},
       "encoding": {"x": {"field": "pos", "type": "quantitative"}, "y": {"datum": 4.9, "type": "quantitative"}, "text": {"field": "label"}}}
     ]
    }
   ], "spacing": 0, "bounds": "flush", "resolve": {"scale": {"x": "independent", "y": "independent"}}},
  {"width": 1, "height": 70, "data": {"values": [{}]}, "mark": {"type": "point", "opacity": 0, "size": 0}},
  {"hconcat": [
    {"width": 15, "height": 1, "data": {"values": [{}]}, "mark": {"type": "point", "opacity": 0, "size": 0}},
    {
     "width": 1253, "height": 246,
     "data": {"name": "cap"},
     "layer": [
      {"transform": [{"filter": "datum.part === 'p'"}],
       "mark": {"type": "text", "align": "left", "baseline": "middle", "font": "Open Sans", "fontSize": 18.6, "color": "#231f20"},
       "encoding": {"x": {"datum": 0, "type": "quantitative", "scale": {"domain": [0, 1], "nice": false, "zero": false}, "axis": null},
                    "y": {"field": "line", "type": "ordinal", "scale": {"type": "point", "padding": 1.125, "domain": [1,2,3,4,5,6,7,8,9]}, "axis": null},
                    "text": {"field": "text"}}},
      {"transform": [{"filter": "datum.part === 'b'"}],
       "mark": {"type": "text", "align": "left", "baseline": "middle", "font": "Open Sans", "fontSize": 18.6, "fontWeight": "bold", "color": "#231f20"},
       "encoding": {"x": {"datum": 0, "type": "quantitative"}, "y": {"field": "line", "type": "ordinal"}, "text": {"field": "text"}}},
      {"transform": [{"filter": "datum.part === 'r'"}],
       "mark": {"type": "text", "align": "left", "baseline": "middle", "font": "Open Sans", "fontSize": 18.6, "color": "#231f20", "dx": 55},
       "encoding": {"x": {"datum": 0, "type": "quantitative"}, "y": {"field": "line", "type": "ordinal"}, "text": {"field": "text"}}}
     ]
    }
   ], "spacing": 0, "bounds": "flush", "resolve": {"scale": {"x": "independent", "y": "independent"}}}
]
}
